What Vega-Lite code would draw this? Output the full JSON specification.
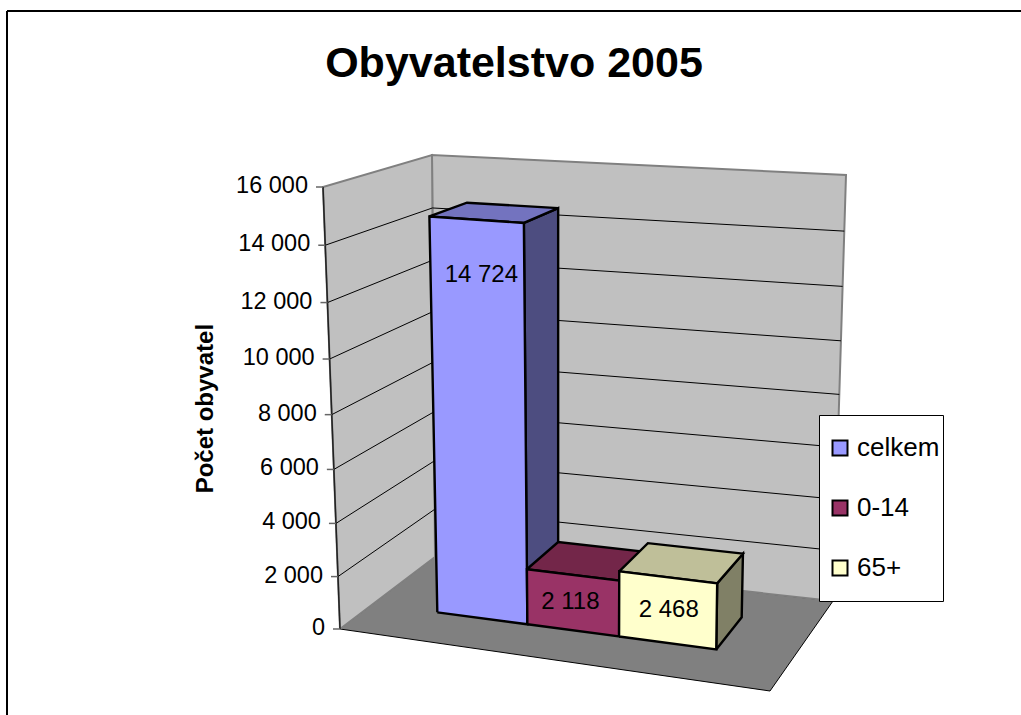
{
"$schema":"https://vega.github.io/schema/vega-lite/v6.json",
"width":1014,"height":704,
"autosize":{"type":"none"},
"padding":{"left":7,"top":11,"right":0,"bottom":0},
"background":"white",
"config":{"font":"Liberation Sans","view":{"stroke":null}},
"title":{"text":"Obyvatelstvo 2005","font":"Liberation Sans","fontSize":43,"fontWeight":"bold","color":"black","anchor":"middle","frame":"group","offset":-65,"dy":45,"baseline":"alphabetic"},
"layer":[
{"data":{"values":[{}]},"mark":{"type":"rule","color":"black","strokeWidth":2},"encoding":{"y":{"datum":11,"type":"quantitative","scale":{"domain":[11,715],"reverse":true,"nice":false,"zero":false},"axis":null}}},
{"data":{"values":[{}]},"mark":{"type":"rule","color":"black","strokeWidth":2},"encoding":{"x":{"datum":7,"type":"quantitative","scale":{"domain":[7,1021],"nice":false,"zero":false},"axis":null}}},
{
"data":{"values":[
{"typ":"plocha","plocha":"podlaha"},
{"typ":"plocha","plocha":"zadni"},
{"typ":"plocha","plocha":"leva"},
{"typ":"mrizka","hodnota":0},
{"typ":"mrizka","hodnota":2000},
{"typ":"mrizka","hodnota":4000},
{"typ":"mrizka","hodnota":6000},
{"typ":"mrizka","hodnota":8000},
{"typ":"mrizka","hodnota":10000},
{"typ":"mrizka","hodnota":12000},
{"typ":"mrizka","hodnota":14000},
{"typ":"mrizka","hodnota":16000},
{"typ":"sloupec","kategorie":"celkem","hodnota":14724,"poradi":0},
{"typ":"sloupec","kategorie":"0-14","hodnota":2118,"poradi":1},
{"typ":"sloupec","kategorie":"65+","hodnota":2468,"poradi":2}
]},
"transform":[
{"calculate":"datum.typ==='sloupec'?[0.153,0.368,0.587,0.819][datum.poradi]:0","as":"ul"},
{"calculate":"datum.typ==='sloupec'?[0.153,0.368,0.587,0.819][datum.poradi+1]:0","as":"ur"},
{"calculate":"datum.typ==='sloupec'?[0.2695,0.471,0.705][datum.poradi]:0","as":"uc"},
{"calculate":"datum.typ==='plocha'?(datum.plocha==='podlaha'?[[0,0,0,0,'p'],[1,0,0,1,'p'],[1,0,1,2,'p'],[0,0,1,3,'p'],[0,0,0,4,'p']]:datum.plocha==='zadni'?[[0,0,1,0,'p'],[1,0,1,1,'p'],[1,16000,1,2,'p'],[0,16000,1,3,'p'],[0,0,1,4,'p']]:[[0,0,0,0,'p'],[0,0,1,1,'p'],[0,16000,1,2,'p'],[0,16000,0,3,'p'],[0,0,0,4,'p']]):datum.typ==='mrizka'?[[0,datum.hodnota,0,0,'m'],[0,datum.hodnota,1,1,'m'],[1,datum.hodnota,1,2,'m']]:[[datum.ur,0,0.35,0,'side'],[datum.ur,0,0.72,1,'side'],[datum.ur,datum.hodnota,0.72,2,'side'],[datum.ur,datum.hodnota,0.35,3,'side'],[datum.ur,0,0.35,4,'side'],[datum.ul,datum.hodnota,0.35,0,'top'],[datum.ur,datum.hodnota,0.35,1,'top'],[datum.ur,datum.hodnota,0.72,2,'top'],[datum.ul,datum.hodnota,0.72,3,'top'],[datum.ul,datum.hodnota,0.35,4,'top'],[datum.ul,0,0.35,0,'front'],[datum.ur,0,0.35,1,'front'],[datum.ur,datum.hodnota,0.35,2,'front'],[datum.ul,datum.hodnota,0.35,3,'front'],[datum.ul,0,0.35,4,'front'],[datum.uc,datum.hodnota>10000?datum.hodnota-1950:datum.hodnota/2,0.35,0,'popisek']]","as":"bod"},
{"flatten":["bod"]},
{"calculate":"datum.bod[0]","as":"u"},
{"calculate":"datum.bod[1]/16000","as":"s"},
{"calculate":"datum.bod[2]","as":"d"},
{"calculate":"datum.bod[3]","as":"i"},
{"calculate":"datum.bod[4]","as":"stena"},
{"calculate":"datum.kategorie+' '+datum.stena","as":"klic"},
{"calculate":"datum.s/(datum.s+1.062*(1-datum.s))","as":"t"},
{"calculate":"(1-datum.t)*((1-datum.d)*((1-datum.u)*340+datum.u*770)+datum.d*((1-datum.u)*435+datum.u*833))+datum.t*((1-datum.d)*((1-datum.u)*323+datum.u*779)+datum.d*((1-datum.u)*432+datum.u*846))","as":"sx"},
{"calculate":"(1-datum.t)*((1-datum.d)*((1-datum.u)*629+datum.u*691)+datum.d*((1-datum.u)*557+datum.u*601))+datum.t*((1-datum.d)*((1-datum.u)*187+datum.u*219)+datum.d*((1-datum.u)*155+datum.u*175))","as":"sy"},
{"calculate":"replace(format(datum.hodnota,','),',',' ')","as":"popis"},
{"calculate":"datum.sx-7","as":"sx0"}
],
"encoding":{
"x":{"field":"sx","type":"quantitative","scale":{"domain":[7,1021],"nice":false,"zero":false},"axis":null},
"y":{"field":"sy","type":"quantitative","scale":{"domain":[11,715],"reverse":true,"nice":false,"zero":false},"axis":null},
"order":{"field":"i","type":"quantitative"}
},
"resolve":{"scale":{"fill":"independent"}},
"layer":[
{"transform":[{"filter":"datum.plocha==='podlaha'"}],"mark":{"type":"line","fill":"#808080","stroke":"black","strokeWidth":1}},
{"transform":[{"filter":"datum.plocha==='zadni'"}],"mark":{"type":"line","fill":"#C0C0C0","stroke":"#808080","strokeWidth":2}},
{"transform":[{"filter":"datum.plocha==='leva'"}],"mark":{"type":"line","fill":"#C0C0C0","stroke":"#808080","strokeWidth":2}},
{"transform":[{"filter":"datum.typ==='mrizka'&&datum.hodnota>0&&datum.hodnota<16000"}],"mark":{"type":"line","stroke":"black","strokeWidth":1},"encoding":{"detail":{"field":"hodnota"}}},
{"transform":[{"filter":"datum.typ==='mrizka'&&datum.i===0&&(datum.hodnota===0||datum.hodnota===16000)"}],"mark":{"type":"line","stroke":"#222222","strokeWidth":1.5}},
{"transform":[{"filter":"datum.typ==='mrizka'&&datum.i===0"}],"mark":{"type":"rule","stroke":"#666666","strokeWidth":1.5},"encoding":{"x2":{"field":"sx0"},"order":null}},
{"transform":[{"filter":"datum.typ==='mrizka'&&datum.i===0"}],"mark":{"type":"text","align":"right","baseline":"middle","dx":-15,"dy":-1,"fontSize":23.5,"color":"black"},"encoding":{"text":{"field":"popis"},"order":null}},
{"transform":[{"filter":"datum.typ==='mrizka'&&datum.i===0&&datum.hodnota===8000"}],"mark":{"type":"text","text":"Počet obyvatel","angle":270,"align":"center","baseline":"alphabetic","dx":6,"dy":-119,"fontSize":24,"fontWeight":"bold","color":"black"},"encoding":{"order":null}},
{"transform":[{"filter":"datum.stena==='side'||datum.stena==='top'"}],"mark":{"type":"line","stroke":"black","strokeWidth":2.4,"strokeJoin":"miter"},"encoding":{"fill":{"field":"klic","type":"nominal","legend":null,"scale":{"domain":["celkem side","celkem top","0-14 side","0-14 top","65+ side","65+ top"],"range":["#4D4D80","#7373BF","#4D1A33","#732649","#808066","#BFBF99"]}}}},
{"transform":[{"filter":"datum.stena==='front'"}],"mark":{"type":"line","stroke":"black","strokeWidth":2.4,"strokeJoin":"miter"},"encoding":{"fill":{"field":"kategorie","type":"nominal","sort":["celkem","0-14","65+"],"scale":{"domain":["celkem","0-14","65+"],"range":["#9999FF","#993366","#FFFFCC"]},"legend":{"title":null,"orient":"none","legendX":812,"legendY":404,"padding":3,"fillColor":"white","strokeColor":"black","symbolType":"square","symbolSize":225,"symbolStrokeColor":"black","symbolStrokeWidth":2,"symbolOffset":5,"labelFontSize":26,"labelOffset":4,"labelColor":"black","labelFont":"Liberation Sans","clipHeight":60,"rowPadding":0}}}},
{"transform":[{"filter":"datum.stena==='popisek'"}],"mark":{"type":"text","align":"center","baseline":"middle","fontSize":24,"color":"black"},"encoding":{"text":{"field":"popis"},"order":null}}
]
}
]
}
